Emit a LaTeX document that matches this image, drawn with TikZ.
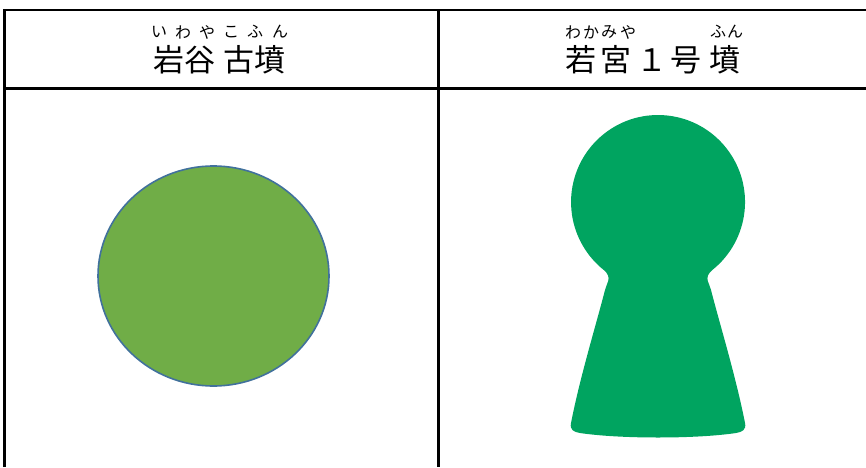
\documentclass[tikz,border=0pt]{standalone}
\usepackage{fontspec}
\newfontfamily\jp{Noto Sans CJK JP}
\definecolor{kfill}{HTML}{00A460}
\definecolor{cfill}{HTML}{70AD47}
\definecolor{cline}{HTML}{41719C}
\tikzset{
  rule/.style={line width=2.2pt, black},
  big/.style={inner sep=0pt, font=\jp\fontsize{31}{31}\selectfont},
  ruby/.style={inner sep=0pt, font=\jp\fontsize{16}{16}\selectfont},
}
\begin{document}
\begin{tikzpicture}[x=1pt,y=1pt]
\useasboundingbox (0,0) rectangle (866,467);
% table
\coordinate (tl) at (4.5,457);
\coordinate (tr) at (866,457);
\coordinate (bl) at (4.5,0);
\coordinate (tm) at (438.5,457);
\coordinate (bm) at (438.5,0);
\coordinate (hl) at (4.5,378.5);
\coordinate (hr) at (866,378.5);
\draw[rule] (bl) -- (tl) -- (tr);
\draw[rule] (tm) -- (bm);
\draw[rule] (hl) -- (hr);
% left header
\node[ruby] (r1) at (159,435) {い};
\node[ruby] (r2) at (183,435) {わ};
\node[ruby] (r3) at (207,435) {や};
\node[ruby] (r4) at (231,435) {こ};
\node[ruby] (r5) at (255,435) {ふ};
\node[ruby] (r6) at (280,435) {ん};
\node[big] (b1) at (169,407) {岩};
\node[big] (b2) at (200,407) {谷};
\node[big] (b3) at (239,407) {古};
\node[big] (b4) at (270,407) {墳};
% right header
\node[ruby] (s1) at (573,435) {わ};
\node[ruby] (s2) at (591,435) {か};
\node[ruby] (s3) at (609,435) {み};
\node[ruby] (s4) at (628,435) {や};
\node[ruby] (s5) at (718,435) {ふ};
\node[ruby] (s6) at (735,435) {ん};
\node[big] (c1) at (581,407) {若};
\node[big] (c2) at (616,407) {宮};
\node[big] (c3) at (652,407) {１};
\node[big] (c4) at (686,407) {号};
\node[big] (c5) at (725,407) {墳};
% round mound
\fill[cfill, draw=cline, line width=1.6pt] (213.5,191) ellipse [x radius=115.5, y radius=110];
% keyhole mound
\fill[kfill] (712.3,197) arc[start angle=-51.4, end angle=231.4, radius=87]
  .. controls (607.5,194) and (609.5,190) .. (608.2,186)
  .. controls (607.2,183) and (605.8,180) .. (605,177)
  .. controls (596,142) and (580,90) .. (571,44)
  .. controls (569.5,37) and (574,35) .. (580,34)
  .. controls (620,28) and (696,28) .. (736,34)
  .. controls (742,35) and (746.5,37) .. (745,44)
  .. controls (736,90) and (720,142) .. (711,177)
  .. controls (710.2,180) and (708.8,183) .. (707.8,186)
  .. controls (706.5,190) and (708.5,194) .. (712.3,197) -- cycle;
\end{tikzpicture}
\end{document}
